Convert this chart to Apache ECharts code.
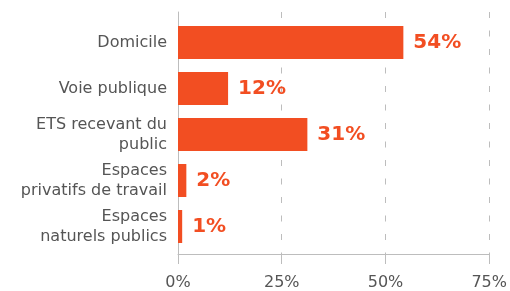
<!DOCTYPE html>
<html>
<head>
<meta charset="utf-8">
<script src="https://cdn.jsdelivr.net/npm/echarts@6/dist/echarts.min.js"></script>
<style>
  html, body { margin: 0; padding: 0; background: #fff; }
  #chart { width: 510px; height: 291px; }
</style>
</head>
<body>
<div id="chart"></div>
<script>
var categories = ['Domicile', 'Voie publique', 'ETS recevant du\npublic', 'Espaces\nprivatifs de travail', 'Espaces\nnaturels publics'];
var values = [54, 12, 31, 2, 1];
var xTicks = [0, 25, 50, 75];

var orange = '#f24e22';
var grey = '#555';
var lineGrey = '#bdbdbd';

var chart = echarts.init(document.getElementById('chart'));

var option = {
  animation: false,
  textStyle: { fontFamily: 'DejaVu Sans' },
  grid: [
    // cadre : axes + lignes pointillées
    { left: 178, top: 12, width: 313, height: 244 },
    // barres
    { left: 178, top: 19.5, width: 313, height: 230 }
  ],
  xAxis: [{
    gridIndex: 0,
    type: 'value',
    min: xTicks[0],
    max: xTicks[xTicks.length - 1],
    interval: 25,
    axisLine: { show: true, lineStyle: { color: lineGrey } },
    axisTick: { show: true, length: 10, lineStyle: { color: lineGrey } },
    axisLabel: {
      color: grey,
      fontSize: 16,
      margin: 21,
      formatter: '{value}%'
    },
    splitLine: {
      show: true,
      lineStyle: { color: lineGrey, type: [6, 12.5], width: 1 }
    }
  }, {
    gridIndex: 1,
    type: 'value',
    min: xTicks[0],
    max: xTicks[xTicks.length - 1],
    show: false
  }],
  yAxis: [{
    gridIndex: 0,
    type: 'value',
    min: 0,
    max: 1,
    axisLine: { show: true, lineStyle: { color: lineGrey } },
    axisTick: { show: false },
    axisLabel: { show: false },
    splitLine: { show: false }
  }, {
    gridIndex: 1,
    type: 'category',
    inverse: true,
    data: categories,
    axisLine: { show: false },
    axisTick: { show: false },
    axisLabel: {
      color: grey,
      fontSize: 16,
      lineHeight: 20,
      margin: 11
    }
  }],
  series: [{
    type: 'bar',
    xAxisIndex: 1,
    yAxisIndex: 1,
    data: values,
    barWidth: 33,
    itemStyle: { color: orange },
    label: {
      show: true,
      position: 'right',
      distance: 10,
      formatter: '{c}%',
      color: orange,
      fontSize: 20,
      fontWeight: 'bold'
    }
  }]
};

chart.setOption(option);
</script>
</body>
</html>
